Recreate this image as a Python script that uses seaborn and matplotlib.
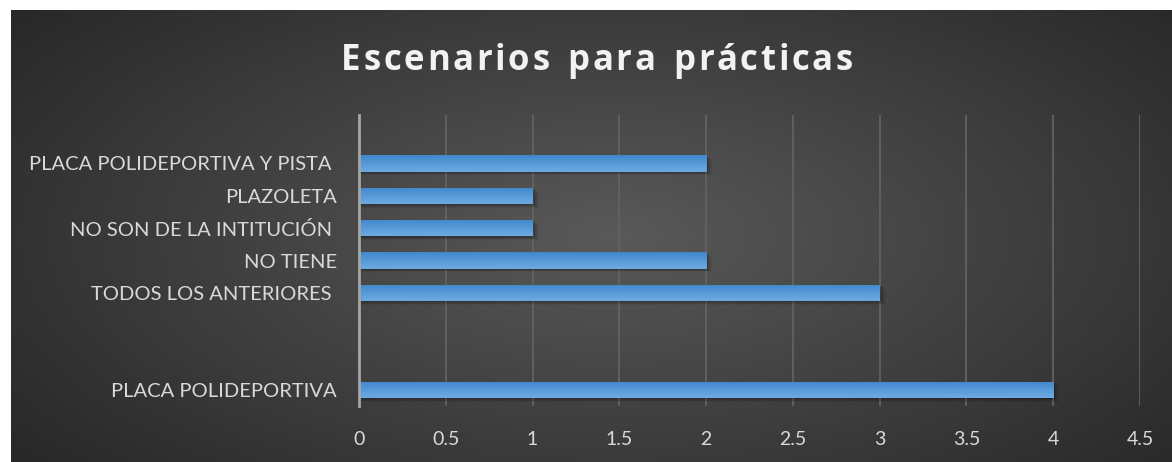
import numpy as np
import pandas as pd
import matplotlib
matplotlib.use('Agg')
import matplotlib.pyplot as plt
import seaborn as sns

categories = ['PLACA POLIDEPORTIVA Y PISTA ', 'PLAZOLETA', 'NO SON DE LA INTITUCIÓN ',
              'NO TIENE', 'TODOS LOS ANTERIORES ', 'PLACA POLIDEPORTIVA']
values = [2, 1, 1, 2, 3, 4]
# empty slots in the category axis, as in the original chart
order = [' ', 'PLACA POLIDEPORTIVA Y PISTA ', 'PLAZOLETA', 'NO SON DE LA INTITUCIÓN ',
         'NO TIENE', 'TODOS LOS ANTERIORES ', '  ', '   ', 'PLACA POLIDEPORTIVA']
xticks = [0, 0.5, 1, 1.5, 2, 2.5, 3, 3.5, 4, 4.5]
title = 'Escenarios para prácticas'

df = pd.DataFrame({'cat': categories, 'val': values})

sns.set_style('dark')
plt.rcParams['font.family'] = ['Lato', 'DejaVu Sans']

W, H = 1172, 462
fig = plt.figure(figsize=(W / 100, H / 100), dpi=100, facecolor='white')

# dark radial background
bg = fig.add_axes([11 / W, 0, 1 - 11 / W, 1 - 10 / H], zorder=0)
yy, xx = np.mgrid[0:1:300j, 0:1:700j]
r = np.sqrt(((xx - 0.52) / 0.75) ** 2 + ((yy - 0.5) / 0.9) ** 2)
shade = np.clip(0.35 - 0.22 * r, 0.14, 0.35)
bg.imshow(np.dstack([shade] * 3), aspect='auto', extent=[0, 1, 0, 1], interpolation='bicubic')
bg.set_axis_off()

ax = fig.add_axes([359 / W, 1 - 406 / H, (1140 - 359) / W, (406 - 115) / H], zorder=1)
ax.patch.set_alpha(0)
sns.barplot(data=df, x='val', y='cat', order=order, color='#5b9bd5', width=0.5,
            ax=ax, saturation=1, zorder=3)

ax.set_xlim(0, 4.5)
ax.set_xticks(xticks)
ax.set_xticklabels([f'{t:g}' for t in xticks])
ax.set_xlabel('')
ax.set_ylabel('')
ax.grid(axis='x', color='#626262', linewidth=1.3, zorder=0)
ax.grid(axis='y', visible=False)
for s in ['top', 'right', 'bottom']:
    ax.spines[s].set_visible(False)
ax.spines['left'].set_color('#a6a6a6')
ax.spines['left'].set_linewidth(2)
ax.spines['left'].set_zorder(5)
ax.tick_params(axis='both', length=0, colors='#d9d9d9', labelsize=14)
ax.tick_params(axis='y', labelsize=14.5, pad=16)
ax.tick_params(axis='x', pad=18)

# gradient fill and soft shadow for each bar
grad = np.linspace(0, 1, 50)[:, None]
cmap = matplotlib.colors.LinearSegmentedColormap.from_list('b', ['#4088cc', '#6eaae3'])
for p in ax.patches:
    x0, y0 = p.get_x(), p.get_y()
    w, h = p.get_width(), p.get_height()
    if not np.isfinite(w) or w == 0:
        continue
    for k, a in enumerate([0.18, 0.12, 0.06]):
        sh = matplotlib.patches.Rectangle((x0, y0 + 0.04 * (k + 1)), w + 0.012 * (k + 1), h,
                                          facecolor='black', alpha=a, linewidth=0, zorder=2)
        ax.add_patch(sh)
    im = ax.imshow(grad, cmap=cmap, aspect='auto', extent=[x0, x0 + w, y0 + h, y0],
                   zorder=3.5, interpolation='bicubic')
    im.set_clip_path(p)
    p.set_facecolor('none')
    p.set_edgecolor('none')
ax.set_xlim(0, 4.5)
ax.set_ylim(len(order) - 0.5, -0.5)

# title with letter spacing, placed one character at a time
renderer = fig.canvas.get_renderer()
spacing = 2.7
tprops = dict(fontsize=25, fontweight='bold', color='#f2f2f2',
              family=['Open Sans', 'DejaVu Sans'], va='baseline', ha='left')
widths = []
for ch in title:
    t = fig.text(0, 0, ch if ch != ' ' else 'n', **tprops)
    widths.append(t.get_window_extent(renderer).width * (0.55 if ch == ' ' else 1))
    t.remove()
total = sum(widths) + spacing * (len(title) - 1)
x = 597 - total / 2
for ch, w in zip(title, widths):
    if ch != ' ':
        fig.text(x / W, 1 - 70 / H, ch, **tprops)
    x += w + spacing

fig.savefig('out.png', dpi=100, facecolor='white')
